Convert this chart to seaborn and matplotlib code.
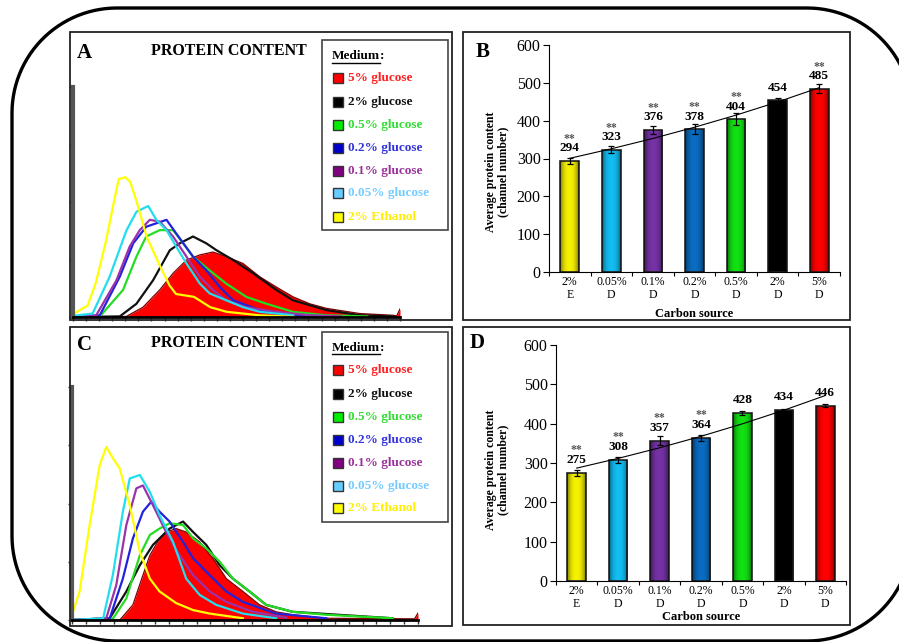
import numpy as np
import pandas as pd
import matplotlib
matplotlib.use('Agg')
import matplotlib.pyplot as plt
import seaborn as sns
from matplotlib.patches import Rectangle
from matplotlib.lines import Line2D

W, H = 899, 642

# flow cytometry traces (channel, relative count)
a_red = [(0, 0.0), (163, 0.01), (214, 0.17), (265, 0.47), (306, 0.76), (347, 0.99), (388, 1.08), (428, 1.13),
         (469, 1.05), (520, 0.93), (571, 0.7), (622, 0.52), (673, 0.35), (724, 0.23), (775, 0.15), (877, 0.06),
         (979, 0.03), (990, 0.02), (1000, 0.14)]
a_black = [(0, 0.0), (143, 0.01), (194, 0.23), (245, 0.64), (296, 1.16), (326, 1.28), (367, 1.4), (408, 1.28),
           (439, 1.16), (490, 0.99), (551, 0.76), (622, 0.47), (673, 0.29), (775, 0.12), (877, 0.03), (979, 0.01)]
a_green = [(0, 0.0), (82, 0.01), (153, 0.47), (194, 1.05), (224, 1.4), (265, 1.51), (306, 1.51), (337, 1.28),
           (367, 1.05), (418, 0.81), (469, 0.58), (530, 0.35), (592, 0.23), (673, 0.09), (775, 0.03), (900, 0.01)]
a_blue = [(0, 0.0), (82, 0.03), (143, 0.7), (184, 1.28), (224, 1.57), (286, 1.69), (316, 1.45), (367, 1.05),
          (408, 0.81), (449, 0.52), (490, 0.29), (571, 0.12), (673, 0.03), (800, 0.01)]
a_purple = [(0, 0.0), (71, 0.03), (133, 0.64), (173, 1.22), (204, 1.51), (235, 1.69), (265, 1.66), (306, 1.4),
            (347, 1.05), (388, 0.7), (428, 0.47), (469, 0.29), (530, 0.17), (622, 0.09), (724, 0.03), (820, 0.01)]
a_cyan = [(0, 0.02), (60, 0.06), (112, 0.7), (163, 1.5), (194, 1.83), (230, 1.93), (255, 1.69), (286, 1.51),
          (316, 1.22), (347, 0.93), (388, 0.58), (418, 0.41), (469, 0.29), (520, 0.17), (571, 0.09), (673, 0.03)]
a_yellow = [(0, 0.05), (30, 0.15), (45, 0.2), (70, 0.6), (100, 1.3), (125, 2.0), (140, 2.4), (160, 2.43),
            (175, 2.35), (195, 2.0), (225, 1.4), (265, 0.9), (295, 0.55), (315, 0.4), (370, 0.35), (420, 0.17),
            (470, 0.09), (570, 0.03), (680, 0.0)]

# panel C
c_red = [(0, 0.0), (138, 0.0), (176, 0.26), (205, 0.77), (225, 1.11), (253, 1.4), (272, 1.51), (301, 1.57),
         (330, 1.51), (369, 1.34), (407, 1.06), (446, 0.71), (494, 0.49), (542, 0.26), (590, 0.14), (638, 0.09),
         (735, 0.03), (990, 0.02), (1000, 0.12)]
c_black = [(0, 0.0), (109, 0.03), (157, 0.49), (196, 0.94), (234, 1.29), (253, 1.4), (282, 1.57), (321, 1.69),
           (350, 1.51), (388, 1.29), (427, 0.94), (465, 0.71), (513, 0.49), (561, 0.26), (638, 0.14), (927, 0.03)]
c_green = [(0, 0.0), (119, 0.03), (157, 0.37), (196, 1.11), (225, 1.46), (253, 1.57), (282, 1.66), (321, 1.63),
           (350, 1.4), (388, 1.23), (427, 1.0), (465, 0.71), (513, 0.49), (561, 0.26), (638, 0.14), (735, 0.09),
           (927, 0.03)]
c_blue = [(0, 0.0), (109, 0.03), (147, 0.71), (176, 1.4), (205, 1.86), (229, 2.03), (253, 1.86), (282, 1.69),
          (321, 1.34), (350, 1.06), (398, 0.77), (446, 0.49), (494, 0.31), (590, 0.11), (735, 0.03)]
c_purple = [(0, 0.0), (99, 0.03), (128, 0.6), (157, 1.63), (186, 2.26), (205, 2.31), (234, 1.97), (272, 1.51),
            (311, 1.11), (350, 0.77), (398, 0.49), (446, 0.31), (523, 0.14), (619, 0.04)]
c_cyan = [(0, 0.0), (90, 0.03), (118, 0.77), (147, 1.86), (167, 2.43), (196, 2.49), (225, 2.2), (253, 1.8),
          (292, 1.34), (330, 0.71), (369, 0.43), (417, 0.26), (494, 0.11), (590, 0.03)]
c_yellow = [(0, 0.09), (22, 0.49), (51, 1.63), (80, 2.66), (99, 2.97), (119, 2.77), (138, 2.6), (167, 1.97),
            (196, 1.17), (225, 0.71), (253, 0.49), (301, 0.29), (350, 0.17), (398, 0.11), (494, 0.03)]

media = ['5% glucose', '2% glucose', '0.5% glucose', '0.2% glucose', '0.1% glucose', '0.05% glucose', '2% Ethanol']
line_colors = ['#ff0000', '#111111', '#22dd22', '#2222dd', '#9933aa', '#22ddee', '#ffff00']
box_colors = ['#ff0000', '#000000', '#00ee00', '#0000cc', '#800080', '#66ccff', '#ffff00']
text_colors = ['#ff2020', '#111111', '#33dd33', '#3333dd', '#993399', '#77ccff', '#ffee00']

# bar panels B and D
carbon = ['2%\nE', '0.05%\nD', '0.1%\nD', '0.2%\nD', '0.5%\nD', '2%\nD', '5%\nD']
bar_colors = ['#f5f000', '#12bdf2', '#7432a4', '#0a6cc0', '#12e012', '#000000', '#ff0000']
b_values = [294, 323, 376, 378, 404, 454, 485]
b_err = [8, 9, 10, 12, 15, 5, 12]
b_sig = ['**', '**', '**', '**', '**', '', '**']
d_values = [275, 308, 357, 364, 428, 434, 446]
d_err = [8, 8, 12, 7, 5, 3, 4]
d_sig = ['**', '**', '**', '**', '', '', '']

plt.rcParams['font.family'] = ['Liberation Serif', 'DejaVu Serif']
fig = plt.figure(figsize=(W / 100, H / 100), dpi=100)


def rect(x0, y0, x1, y1):
    return [x0 / W, 1 - y1 / H, (x1 - x0) / W, (y1 - y0) / H]


def fx(x):
    return x / W


def fy(y):
    return 1 - y / H


def draw_hist(ax, traces):
    red = pd.DataFrame(traces[0], columns=['channel', 'count'])
    ax.fill_between(red['channel'], red['count'], color='#ff0000', lw=0, zorder=1)
    ax.plot(red['channel'], red['count'], color='#7a0000', lw=0.9, zorder=1.5)
    for pts, col in zip(traces[1:], line_colors[1:]):
        d = pd.DataFrame(pts, columns=['channel', 'count'])
        sns.lineplot(data=d, x='channel', y='count', color=col, lw=1.6, sort=False,
                     estimator=None, ax=ax, zorder=2)
    ax.set_xlim(0, 1000)
    ax.set_ylim(0, 4)
    ax.set_xlabel('')
    ax.set_ylabel('')
    ax.set_facecolor('none')
    for s in ['top', 'right']:
        ax.spines[s].set_visible(False)
    ax.spines['left'].set_linewidth(3)
    ax.spines['left'].set_color('#555555')
    ax.spines['bottom'].set_linewidth(2)
    ax.set_yticks([0, 1, 2, 3, 4])
    ax.set_xticks(np.arange(0, 1001, 40))
    ax.set_xticklabels([])
    ax.set_yticklabels([])
    ax.tick_params(length=3, width=1, color='#333333', direction='out')


# dark-edged shading used to give the bars their rounded look
shade = np.zeros((1, 60, 4))
shade[0, :, 3] = 0.5 * np.abs(np.linspace(-1, 1, 60)) ** 2.5


def draw_bars(ax, values, err, sig, xlabel_pad):
    df = pd.DataFrame({'carbon': carbon, 'protein': values})
    sns.barplot(data=df, x='carbon', y='protein', hue='carbon', palette=bar_colors, legend=False,
                width=0.45, saturation=1, edgecolor='#222222', linewidth=1.2, ax=ax)
    for p in ax.patches:
        im = ax.imshow(shade, extent=[p.get_x(), p.get_x() + p.get_width(), 0, p.get_height()],
                       aspect='auto', zorder=p.get_zorder() + 0.1)
        im.set_clip_path(p)
    idx = np.arange(len(values))
    ax.errorbar(idx, values, yerr=err, fmt='none', ecolor='black', elinewidth=0.9,
                capsize=2.5, capthick=0.9, zorder=3)
    # exponential trendline
    k, c = np.polyfit(idx, np.log(values), 1)
    ax.plot(idx, np.exp(c + k * idx), color='black', lw=0.8, zorder=4)
    for i, (v, s) in enumerate(zip(values, sig)):
        ax.text(i, v + 25, str(v), ha='center', va='baseline', fontsize=9.5, fontweight='bold')
        if s:
            ax.text(i, v + 50, s, ha='center', va='baseline', fontsize=8.5, fontweight='bold', color='#555555')
    ax.set_ylim(0, 600)
    ax.set_xlim(-0.5, 6.5)
    ax.set_yticks(range(0, 601, 100))
    ax.tick_params(axis='y', labelsize=11.5, length=4, width=0.8, pad=2)
    ax.set_xticks(np.arange(-0.5, 7, 1))
    ax.set_xticklabels([''] * 8)
    ax.set_xticks(idx, minor=True)
    ax.set_xticklabels(carbon, minor=True, fontsize=8.5, linespacing=1.1)
    ax.tick_params(axis='x', which='major', length=3, width=0.8)
    ax.tick_params(axis='x', which='minor', length=0, pad=3)
    for s in ['top', 'right']:
        ax.spines[s].set_visible(False)
    for s in ['left', 'bottom']:
        ax.spines[s].set_linewidth(0.8)
    ax.set_xlabel('Carbon source', fontsize=9, fontweight='bold', labelpad=xlabel_pad)
    ax.set_ylabel('Average protein content\n(channel number)', fontsize=8.5, fontweight='bold',
                  linespacing=1.1)


def draw_legend(x0, y0, x1, y1, title_y, item_ys):
    fig.patches.append(Rectangle((fx(x0), fy(y1)), (x1 - x0) / W, (y1 - y0) / H, transform=fig.transFigure,
                                 facecolor='white', edgecolor='#444444', lw=1.2, zorder=5))
    t = fig.text(fx(332), fy(title_y), 'Medium', fontsize=9.5, fontweight='bold', va='center', zorder=6)
    r = fig.canvas.get_renderer()
    bb = t.get_window_extent(r)
    fig.text(bb.x1 / W, fy(title_y), ':', fontsize=9.5, fontweight='bold', va='center', zorder=6)
    fig.lines.append(Line2D([bb.x0 / W, bb.x1 / W], [(bb.y0 - 0.5) / H] * 2, transform=fig.transFigure,
                            color='black', lw=1, zorder=6))
    for name, bc, tc, y in zip(media, box_colors, text_colors, item_ys):
        fig.patches.append(Rectangle((fx(333), fy(y + 5)), 10 / W, 10 / H, transform=fig.transFigure,
                                     facecolor=bc, edgecolor='#333333', lw=1, zorder=6))
        fig.text(fx(348), fy(y), name, fontsize=9.5, fontweight='bold', color=tc, va='center', zorder=6)


# histogram panels
ax_a = fig.add_axes(rect(73, 87, 400, 317))
draw_hist(ax_a, [a_red, a_black, a_green, a_blue, a_purple, a_cyan, a_yellow])
ax_c = fig.add_axes(rect(72, 387, 418, 620))
draw_hist(ax_c, [c_red, c_black, c_green, c_blue, c_purple, c_cyan, c_yellow])

# bar panels
ax_b = fig.add_axes(rect(549, 45, 840, 272))
draw_bars(ax_b, b_values, b_err, b_sig, 5)
ax_b.yaxis.set_label_coords(-0.135, 0.44)
ax_d = fig.add_axes(rect(556, 345, 846, 581))
draw_bars(ax_d, d_values, d_err, d_sig, 1)
ax_d.yaxis.set_label_coords(-0.16, 0.47)

# panel frames
for x0, y0, x1, y1 in [(70, 32, 452, 320), (463, 32, 850, 320), (70, 327, 452, 626), (463, 327, 850, 625)]:
    fig.patches.append(Rectangle((fx(x0), fy(y1)), (x1 - x0) / W, (y1 - y0) / H, transform=fig.transFigure,
                                 fill=False, edgecolor='#222222', lw=1.3, zorder=3))

for letter, x, y in [('A', 84, 53), ('B', 483, 52), ('C', 84, 345), ('D', 477, 343)]:
    fig.text(fx(x), fy(y), letter, fontsize=15, fontweight='bold', ha='center', va='center')
for y in [51, 343]:
    fig.text(fx(229), fy(y), 'PROTEIN CONTENT', fontsize=11.5, fontweight='bold', ha='center', va='center')

draw_legend(322, 40, 448, 230, 56, [78, 102, 125, 148, 171, 193, 217])
draw_legend(322, 332, 448, 522, 348, [370, 394, 417, 440, 463, 486, 508])

# outer rounded frame, right side runs just off the picture
left, right, top, bottom, rad = 12, 912, 8, 641, 105
t = np.linspace(0, np.pi / 2, 30)
fx_pts = np.concatenate([right - rad + rad * np.cos(t), left + rad - rad * np.sin(t),
                         left + rad - rad * np.cos(t), right - rad + rad * np.sin(t)])
fy_pts = np.concatenate([top + rad - rad * np.sin(t), top + rad - rad * np.cos(t),
                         bottom - rad + rad * np.sin(t), bottom - rad + rad * np.cos(t)])
fx_pts = np.append(fx_pts, fx_pts[0])
fy_pts = np.append(fy_pts, fy_pts[0])
fig.lines.append(Line2D(fx_pts / W, 1 - fy_pts / H, transform=fig.transFigure, color='black', lw=2.4,
                        solid_joinstyle='round'))

fig.savefig('out.png', dpi=100)
